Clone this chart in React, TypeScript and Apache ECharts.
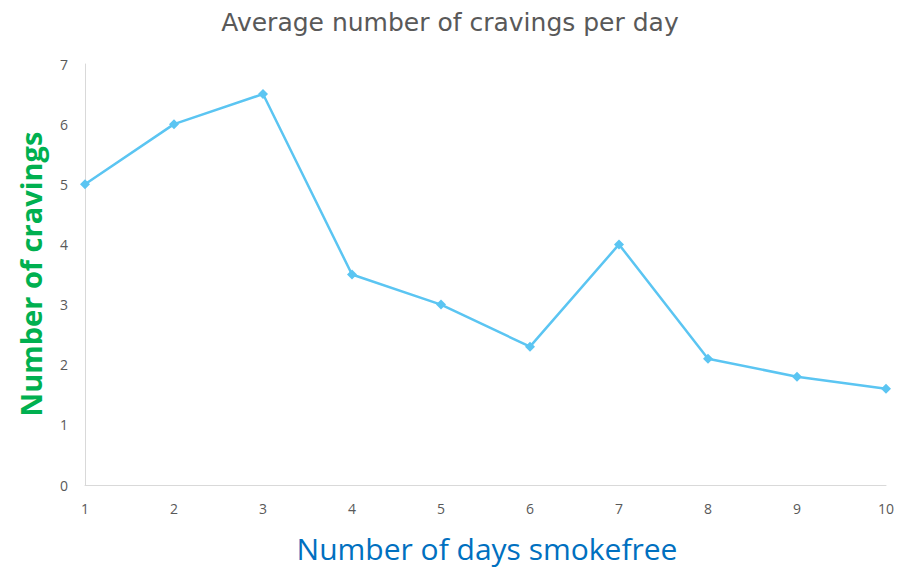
import React, { useEffect, useRef } from "react";
import * as echarts from "echarts";

const days = [1, 2, 3, 4, 5, 6, 7, 8, 9, 10];
const cravings = [5, 6, 6.5, 3.5, 3, 2.3, 4, 2.1, 1.8, 1.6];
const titleText = "Average number of cravings per day";
const xName = "Number of days smokefree";
const yName = "Number of cravings";

export default function App() {
  const ref = useRef<HTMLDivElement>(null);
  useEffect(() => {
    document.body.style.margin = "0";
    const chart = echarts.init(ref.current!, null, { renderer: "svg" });
    chart.setOption({
      animation: false,
      backgroundColor: "#ffffff",
      textStyle: { fontFamily: "Open Sans" },
      grid: { left: 85, right: 14, top: 64, bottom: 84, containLabel: false },
      xAxis: {
        type: "value",
        min: 1,
        max: 10,
        interval: 1,
        axisLine: { show: true, lineStyle: { color: "#d9d9d9", width: 1 } },
        axisTick: { show: false },
        splitLine: { show: false },
        axisLabel: { color: "#595959", fontSize: 14, margin: 16 },
      },
      yAxis: {
        type: "value",
        min: 0,
        max: 7,
        interval: 1,
        axisLine: { show: true, lineStyle: { color: "#d9d9d9", width: 1 } },
        axisTick: { show: false },
        splitLine: { show: false },
        axisLabel: { color: "#595959", fontSize: 14, margin: 17 },
      },
      series: [
        {
          type: "line",
          data: days.map((d, i) => [d, cravings[i]]),
          symbol: "diamond",
          symbolSize: 10,
          lineStyle: { color: "#5BC5F2", width: 2.5 },
          itemStyle: { color: "#5BC5F2" },
        },
      ],
      graphic: [
        {
          type: "text",
          x: 450,
          y: 22,
          style: {
            text: titleText,
            fill: "#595959",
            font: "25px 'DejaVu Sans'",
            align: "center",
            verticalAlign: "middle",
          },
        },
        {
          type: "text",
          x: 487,
          y: 548,
          style: {
            text: xName,
            fill: "#0070C0",
            font: "30px 'Open Sans'",
            align: "center",
            verticalAlign: "middle",
          },
        },
        {
          type: "text",
          x: 30,
          y: 274,
          rotation: Math.PI / 2,
          style: {
            text: yName,
            fill: "#00B050",
            font: "bold 29px 'Open Sans'",
            align: "center",
            verticalAlign: "middle",
          },
        },
      ],
    });
    return () => chart.dispose();
  }, []);
  return <div ref={ref} style={{ width: 900, height: 569 }} />;
}
